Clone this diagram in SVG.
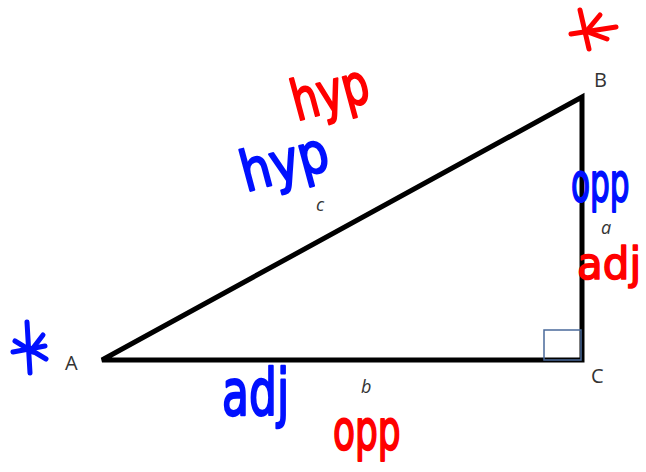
<svg xmlns="http://www.w3.org/2000/svg" width="646" height="472" viewBox="0 0 646 472">
<style>
.lbl{font-family:"Open Sans","Liberation Sans",sans-serif;font-size:20px;fill:#333}
.it{font-style:italic;font-size:18px}
.hw{font-family:"DejaVu Sans","Liberation Sans",sans-serif;font-size:40px;stroke-width:1.5;stroke-linejoin:round}
.blue{fill:#0010ff;stroke:#0010ff}
.red{fill:#ff0000;stroke:#ff0000}
.star{stroke-width:5;stroke-linecap:round;fill:none}
</style>
<rect width="646" height="472" fill="#fff"/>
<g id="triangle">
<polygon points="102,360 582,97 582,360" fill="none" stroke="#000" stroke-width="5" stroke-linejoin="miter"/>
<rect x="544" y="330" width="37" height="30" fill="none" stroke="#4a6a9a" stroke-width="1.5"/>
</g>
<g id="vertex-labels">
<text class="lbl" x="65" y="370">A</text>
<text class="lbl" x="594" y="87">B</text>
<text class="lbl" x="591" y="383">C</text>
</g>
<g id="side-labels">
<text class="lbl it" x="601" y="234">a</text>
<text class="lbl it" x="361" y="393">b</text>
<text class="lbl it" x="316" y="211">c</text>
</g>
<g id="handwriting">
<text class="hw red" transform="translate(297,121) rotate(-15) scale(1.05,1.4)">hyp</text>
<text class="hw blue" transform="translate(246,192) rotate(-15) scale(1.2,1.4)">hyp</text>
<text class="hw blue" transform="translate(571,201) scale(0.78,1.35)">opp</text>
<text class="hw red" transform="translate(577,279) scale(1.05,1.12)">adj</text>
<text class="hw blue" transform="translate(222,415) scale(1.1,1.6)">adj</text>
<text class="hw red" transform="translate(333,449) scale(0.9,1.4)">opp</text>
</g>
<g id="asterisks">
<g class="star" stroke="#0010ff">
<line x1="27" y1="322" x2="30" y2="373"/>
<line x1="13" y1="352" x2="45" y2="346"/>
<line x1="15" y1="341" x2="33" y2="352"/>
<line x1="43" y1="335" x2="30" y2="352"/>
<line x1="46" y1="359" x2="31" y2="350"/>
</g>
<g class="star" stroke="#ff0000">
<line x1="580" y1="10" x2="589" y2="49"/>
<line x1="571" y1="34" x2="616" y2="27"/>
<line x1="600" y1="15" x2="585" y2="33"/>
<line x1="607" y1="39" x2="585" y2="31"/>
</g>
</g>
</svg>
